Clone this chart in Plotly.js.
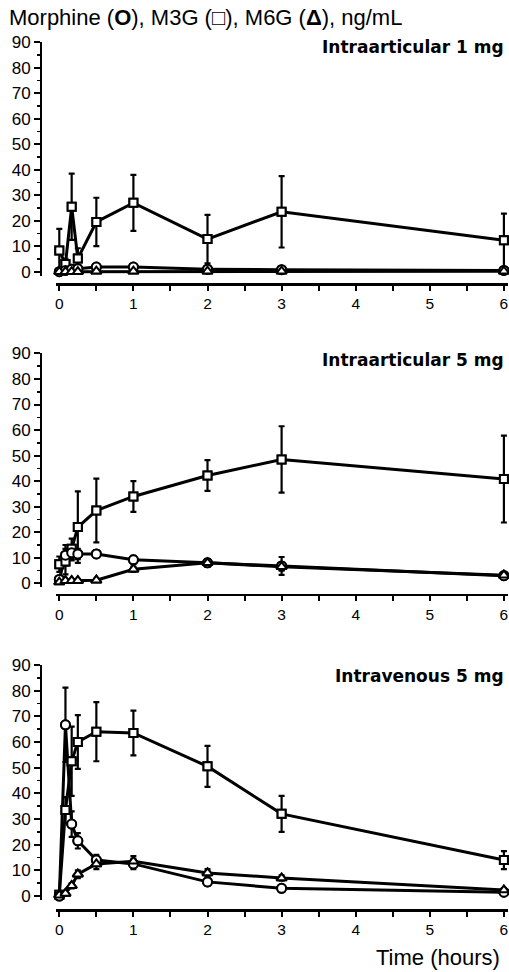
<!DOCTYPE html>
<html>
<head>
<meta charset="utf-8">
<script src="https://cdn.plot.ly/plotly-3.0.1.min.js"></script>
<style>html,body{margin:0;padding:0;background:#fff;}#chart{width:509px;height:972px;}</style>
</head>
<body>
<div id="chart"></div>
<script>
// Sampling times (hours)
const times = [0, 0.083, 0.167, 0.25, 0.5, 1, 2, 3, 6];
const xTickLabels = ['0', '1', '2', '3', '4', '5', '6'];
const panelTitles = ['Intraarticular 1 mg', 'Intraarticular 5 mg', 'Intravenous 5 mg'];

// Intraarticular 1 mg
const ia1Morphine    = [0, 0.5, 1, 1.2, 1.8, 1.8, 1, 0.8, 0.5];
const ia1MorphineErr = [0, 0.5, 0.5, 0.5, 0.8, 0.8, 0.5, 0.5, 0.3];
const ia1M3G         = [8.3, 3, 25.5, 5.2, 19.5, 27, 12.8, 23.5, 12.3];
const ia1M3GErr      = [8.5, 2, 13, 4, 9.5, 11, 9.5, 14, 10.5];
const ia1M6G         = [0, 0, 0, 0, 0.2, 0.2, 0.2, 0.2, 0.2];
const ia1M6GErr      = [0, 0, 0, 0, 0, 0, 0, 0, 0];

// Intraarticular 5 mg
const ia5Morphine    = [1.5, 11, 12, 11.5, 11.5, 9.2, 8, 6.8, 3];
const ia5MorphineErr = [1, 4, 3, 2, 1.5, 1.5, 1.5, 3.5, 1.5];
const ia5M3G         = [7.5, 8.5, 13.5, 22, 28.5, 34, 42.2, 48.5, 40.8];
const ia5M3GErr      = [3, 5, 4, 14, 12.5, 6, 6, 13, 17];
const ia5M6G         = [0.5, 1, 1, 1, 1.2, 5.5, 8, 6.5, 3.2];
const ia5M6GErr      = [0.5, 0.5, 0.5, 0.5, 0.5, 1, 1.5, 1.5, 1];

// Intravenous 5 mg
const ivMorphine     = [0, 66.7, 28, 21.5, 14, 12.5, 5.5, 3, 1.5];
const ivMorphineErr  = [0, 14.5, 5, 3, 2, 2, 1.5, 1, 0.5];
const ivM3G          = [0.5, 33.5, 52.5, 60, 64, 63.5, 50.5, 32, 14];
const ivM3GErr       = [0.5, 5, 13.5, 10.5, 11.5, 8.7, 8, 7, 3.5];
const ivM6G          = [0.3, 1, 4, 8.5, 12.5, 13.5, 9, 7, 2.3];
const ivM6GErr       = [0.3, 0.5, 1, 1.5, 2, 2, 1.5, 1, 0.5];

const panels = [
  {m: ia1Morphine, me: ia1MorphineErr, g3: ia1M3G, g3e: ia1M3GErr, g6: ia1M6G, g6e: ia1M6GErr},
  {m: ia5Morphine, me: ia5MorphineErr, g3: ia5M3G, g3e: ia5M3GErr, g6: ia5M6G, g6e: ia5M6GErr},
  {m: ivMorphine,  me: ivMorphineErr,  g3: ivM3G,  g3e: ivM3GErr,  g6: ivM6G,  g6e: ivM6GErr}
];

const H = 972, W = 509;
// pixel geometry per panel: zero pixel, pixels per 10 units, x-axis line pixel
const geo = [
  {zero: 271.7, per10: 25.5, xline: 284},
  {zero: 583.3, per10: 25.54, xline: 594.5},
  {zero: 896,   per10: 25.67, xline: 910}
];
const yMin = -1.5, yMax = 90;
const xMin = -0.05, xMax = 6.05;
const x0px = 59.3, pxPerHour = 74.1;

const traces = [];
const layout = {
  width: W, height: H,
  margin: {l: 0, r: 0, t: 0, b: 0, autoexpand: false},
  paper_bgcolor: '#fff', plot_bgcolor: 'rgba(0,0,0,0)',
  showlegend: false,
  font: {family: 'Liberation Sans, Arial, sans-serif', color: '#000'},
  annotations: [],
};

function lineStyle() { return {color: '#000', width: 3}; }
function errStyle(arr) { return {type: 'data', array: arr, visible: true, color: '#000', thickness: 2.2, width: 3}; }

panels.forEach((p, i) => {
  const n = i === 0 ? '' : String(i + 1);
  const xa = 'x' + n, ya = 'y' + n;
  const series = [
    {y: p.g3, e: p.g3e, sym: 'square-open', size: 8},
    {y: p.m,  e: p.me,  sym: 'circle-open', size: 9},
    {y: p.g6, e: p.g6e, sym: 'triangle-up-open', size: 9}
  ];
  series.forEach(s => {
    traces.push({
      type: 'scatter', mode: 'lines+markers', x: times, y: s.y,
      xaxis: xa, yaxis: ya, cliponaxis: false,
      line: lineStyle(),
      marker: {symbol: s.sym, size: s.size, color: '#000', line: {color: '#000', width: 2}},
      error_y: errStyle(s.e)
    });
  });
  // white-filled markers on top so the lines don't show through
  series.forEach(s => {
    traces.push({
      type: 'scatter', mode: 'markers', x: times, y: s.y,
      xaxis: xa, yaxis: ya, cliponaxis: false, hoverinfo: 'skip',
      marker: {symbol: s.sym.replace('-open', ''), size: s.size, color: '#fff', line: {color: '#000', width: 2}}
    });
  });

  const g = geo[i];
  const pxPerUnit = g.per10 / 10;
  const botPx = g.zero - yMin * pxPerUnit;
  const topPx = g.zero - yMax * pxPerUnit;
  const leftPx = x0px + xMin * pxPerHour;
  const rightPx = x0px + xMax * pxPerHour;

  layout['xaxis' + n] = {
    domain: [leftPx / W, rightPx / W],
    range: [xMin, xMax],
    anchor: 'free', position: 1 - g.xline / H,
    showgrid: false, zeroline: false,
    showline: true, linecolor: '#000', linewidth: 2.5,
    ticks: 'outside', ticklen: 5, tickwidth: 2, tickcolor: '#000',
    tickmode: 'array', tickvals: [0, 1, 2, 3, 4, 5, 6], ticktext: xTickLabels,
    minor: {tickmode: 'array', tickvals: [0.5, 1.5, 2.5, 3.5, 4.5, 5.5], ticks: 'outside', ticklen: 5, tickwidth: 2, tickcolor: '#000', showgrid: false},
    tickfont: {size: 15.5, color: '#000', family: 'Liberation Sans, Arial, sans-serif'},
    fixedrange: true
  };
  layout['yaxis' + n] = {
    domain: [1 - botPx / H, 1 - topPx / H],
    range: [yMin, yMax],
    anchor: 'free', position: 41 / W,
    showgrid: false, zeroline: false,
    showline: true, linecolor: '#000', linewidth: 2,
    ticks: 'outside', ticklen: 6, tickwidth: 2, tickcolor: '#000',
    tickmode: 'linear', tick0: 0, dtick: 10,
    minor: {tickmode: 'linear', tick0: 5, dtick: 10, ticks: 'outside', ticklen: 3, tickwidth: 1.5, tickcolor: '#000', showgrid: false},
    tickfont: {size: 17, color: '#000', family: 'Liberation Sans, Arial, sans-serif'},
    fixedrange: true
  };

  const titleY = [47.5, 360, 675.5][i];
  layout.annotations.push({
    text: '<b>' + panelTitles[i] + '</b>', xref: 'paper', yref: 'paper',
    x: 506 / W, y: 1 - titleY / H, xanchor: 'right', yanchor: 'middle', showarrow: false,
    font: {family: 'DejaVu Sans, sans-serif', size: 17, color: '#000'}
  });
});

layout.annotations.push({
  text: 'Morphine (<b>O</b>), M3G (<b>□</b>), M6G (<b>Δ</b>), ng/mL', xref: 'paper', yref: 'paper',
  x: 7 / W, y: 1 - 17 / H, xanchor: 'left', yanchor: 'middle', showarrow: false,
  font: {family: 'Liberation Sans, Arial, sans-serif', size: 22, color: '#000'}
});
layout.annotations.push({
  text: 'Time (hours)', xref: 'paper', yref: 'paper',
  x: 502 / W, y: 1 - 957 / H, xanchor: 'right', yanchor: 'middle', showarrow: false,
  font: {family: 'Liberation Sans, Arial, sans-serif', size: 22, color: '#000'}
});

Plotly.newPlot('chart', traces, layout, {staticPlot: true, displayModeBar: false});
</script>
</body>
</html>
